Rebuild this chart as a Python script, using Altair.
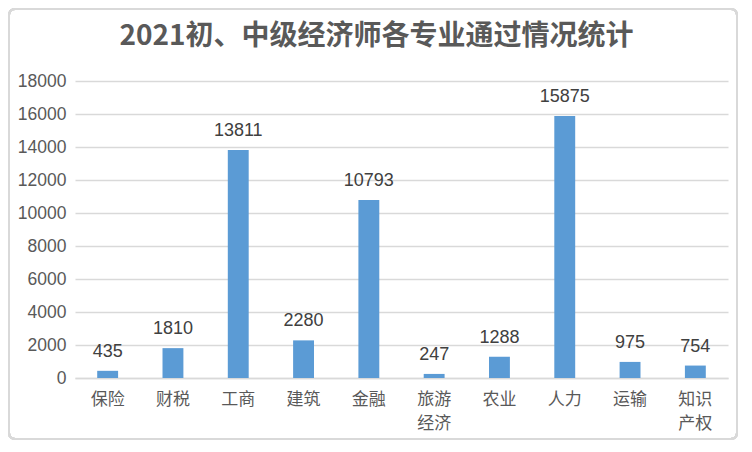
import altair as alt
import pandas as pd

categories = ["保险", "财税", "工商", "建筑", "金融", "旅游\n经济", "农业", "人力", "运输", "知识\n产权"]
values = [435, 1810, 13811, 2280, 10793, 247, 1288, 15875, 975, 754]
y_ticks = [0, 2000, 4000, 6000, 8000, 10000, 12000, 14000, 16000, 18000]

df = pd.DataFrame({"cat": categories, "val": values})

x = alt.X("cat:N", sort=categories, title=None,
          scale=alt.Scale(paddingInner=0.68, paddingOuter=0.34),
          axis=alt.Axis(labelAngle=0, ticks=False, domain=True, domainColor="#d9d9d9",
                        domainWidth=1.5, labelFont="Noto Sans CJK SC", labelFontSize=17,
                        labelColor="#595959", labelPadding=13, labelLineHeight=24,
                        labelExpr="split(datum.label, '\\n')"))
y = alt.Y("val:Q", title=None,
          scale=alt.Scale(domain=[0, 18000], nice=False),
          axis=alt.Axis(values=y_ticks, format="d", labelOverlap=False, ticks=False,
                        domain=False, grid=True, gridColor="#d9d9d9", gridWidth=1.5,
                        labelFont="Liberation Sans", labelFontSize=17.5,
                        labelColor="#595959", labelPadding=9))

base = alt.Chart(df).encode(x=x, y=y)
bars = base.mark_bar(color="#5B9BD5")
labels = base.mark_text(baseline="bottom", dy=-10, font="Liberation Sans",
                        fontSize=18, color="#404040").encode(text="val:Q")

frame = alt.Chart(df).mark_rect(fill=None, stroke="#d9d9d9", strokeWidth=2,
                                cornerRadius=6).encode(
    x=alt.value(-66), x2=alt.value(662), y=alt.value(-72), y2=alt.value(358))

chart = (frame + bars + labels).properties(
    width=653, height=297,
    autosize=alt.AutoSizeParams(type="none"),
    padding={"left": 67, "top": 73, "right": 10, "bottom": 62},
    title=alt.Title("2021初、中级经济师各专业通过情况统计", font="Noto Sans CJK SC",
                    fontSize=28, fontWeight="bold", color="#595959", anchor="middle",
                    dx=-25, offset=-43),
).configure_view(stroke=None)

chart.save("out.html", embed_options={"renderer": "svg", "actions": False})
